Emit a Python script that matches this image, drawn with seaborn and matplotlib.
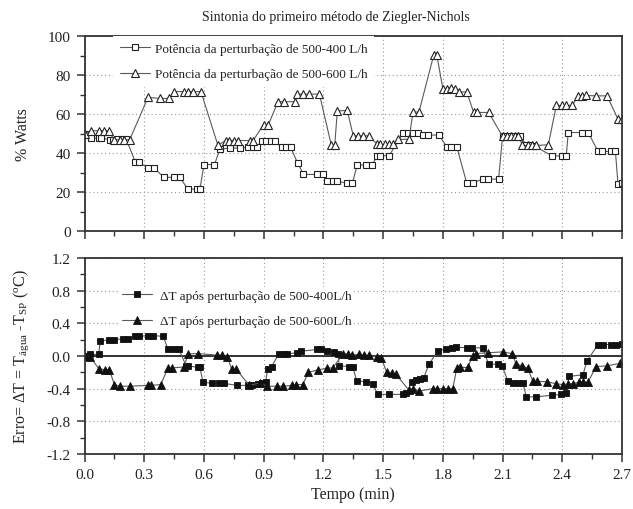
import numpy as np
import pandas as pd
import matplotlib
matplotlib.use("Agg")
import matplotlib.pyplot as plt
import seaborn as sns
from matplotlib.ticker import FixedLocator

# ---------------- data ----------------
t400 = [0.0, 0.031, 0.071, 0.084, 0.13, 0.143, 0.165, 0.19, 0.21, 0.255, 0.272, 0.32, 0.35, 0.40, 0.45,
        0.478, 0.52, 0.565, 0.58, 0.60, 0.653, 0.68, 0.73, 0.78, 0.82, 0.845, 0.865, 0.89, 0.91, 0.935,
        0.955, 0.99, 1.01, 1.035, 1.07, 1.10, 1.17, 1.20, 1.22, 1.25, 1.27, 1.32, 1.345, 1.37, 1.415,
        1.445, 1.47, 1.486, 1.53, 1.60, 1.625, 1.65, 1.675, 1.70, 1.725, 1.78, 1.82, 1.843, 1.87, 1.92,
        1.95, 2.0, 2.026, 2.08, 2.10, 2.13, 2.16, 2.19, 2.22, 2.24, 2.26, 2.35, 2.40, 2.42, 2.43, 2.50,
        2.53, 2.58, 2.60, 2.645, 2.667, 2.68, 2.70]
p400 = [50, 47.6, 47.6, 47.6, 46.8, 46.8, 47, 47, 47, 35.5, 35.5, 32.1, 32.1, 27.5, 27.5,
        27.5, 21.5, 21.5, 21.5, 34.1, 34.1, 42, 42.5, 42.5, 43, 43, 43, 46, 46, 46,
        46, 43, 43, 43, 35, 29, 29, 29, 25.6, 25.6, 25.6, 24.4, 24.4, 33.8, 33.8,
        33.8, 38.6, 38.6, 38.6, 50.2, 50.2, 50.2, 50.2, 49.2, 49.2, 49.2, 43.2, 43.2, 43.2, 24.6,
        24.6, 26.6, 26.6, 26.6, 48.5, 48.5, 48.5, 48.5, 44, 44, 43.5, 38.5, 38.5, 38.5, 50.5, 50.5,
        50.5, 40.8, 40.8, 40.8, 40.8, 23.9, 24.6]

t600 = [0.0, 0.031, 0.073, 0.098, 0.123, 0.148, 0.177, 0.20, 0.227, 0.319, 0.38, 0.425, 0.45, 0.50,
        0.52, 0.545, 0.585, 0.67, 0.71, 0.727, 0.75, 0.772, 0.83, 0.847, 0.90, 0.924, 0.972, 1.0,
        1.056, 1.068, 1.098, 1.126, 1.18, 1.24, 1.257, 1.27, 1.32, 1.35, 1.374, 1.40, 1.43, 1.47,
        1.486, 1.51, 1.53, 1.55, 1.575, 1.63, 1.65, 1.68, 1.754, 1.77, 1.80, 1.82, 1.843, 1.86, 1.88,
        1.92, 1.955, 1.97, 2.03, 2.10, 2.12, 2.14, 2.16, 2.18, 2.20, 2.226, 2.25, 2.27, 2.33, 2.37,
        2.40, 2.42, 2.45, 2.48, 2.50, 2.52, 2.57, 2.625, 2.68, 2.70]
p600 = [50, 51.4, 51.4, 51.4, 51.4, 46.8, 46.8, 46.8, 46.8, 68.5, 68, 68, 71.5, 71.5,
        71.5, 71.5, 71.5, 44, 46.4, 46.4, 46.4, 46.4, 46.4, 46.4, 54.6, 54.6, 66.3, 66.3,
        66.3, 70.2, 70.2, 70.2, 70.2, 44, 44, 61.6, 61.8, 48.8, 48.8, 48.8, 48.8, 44.4,
        44.4, 44.4, 44.4, 44.4, 47, 47, 61, 61, 90.1, 90.1, 73, 73, 73.5, 73, 71.3,
        71.3, 60.8, 60.8, 60.8, 48.5, 48.5, 48.8, 48.8, 48.8, 43.9, 43.9, 43.9, 43.9, 44.2, 64.4,
        64.4, 64.4, 64.4, 69.3, 69.3, 69.5, 69.3, 69.3, 57.3, 57.3]

te400 = [0.0, 0.028, 0.072, 0.078, 0.125, 0.15, 0.195, 0.217, 0.255, 0.272, 0.317, 0.345, 0.395, 0.42,
         0.45, 0.475, 0.51, 0.52, 0.57, 0.58, 0.595, 0.64, 0.675, 0.70, 0.767, 0.82, 0.84, 0.87, 0.89,
         0.91, 0.92, 0.94, 0.975, 1.0, 1.017, 1.067, 1.09, 1.17, 1.19, 1.217, 1.255, 1.272, 1.28, 1.33,
         1.347, 1.367, 1.415, 1.448, 1.473, 1.528, 1.6, 1.616, 1.646, 1.666, 1.683, 1.703, 1.73, 1.775,
         1.817, 1.847, 1.867, 1.92, 1.947, 2.0, 2.03, 2.077, 2.098, 2.127, 2.152, 2.177, 2.202, 2.219,
         2.27, 2.35, 2.395, 2.42, 2.433, 2.504, 2.524, 2.58, 2.604, 2.646, 2.671, 2.70]
e400 = [0.0, 0.02, 0.02, 0.18, 0.2, 0.2, 0.21, 0.21, 0.24, 0.24, 0.25, 0.25, 0.24, 0.08,
        0.08, 0.08, -0.12, -0.12, -0.14, -0.14, -0.32, -0.335, -0.335, -0.335, -0.36, -0.36, -0.36, -0.34, -0.33,
        -0.32, -0.155, -0.13, 0.025, 0.025, 0.025, 0.04, 0.06, 0.08, 0.08, 0.06, 0.045, 0.03, -0.12, -0.13,
        -0.13, -0.3, -0.32, -0.34, -0.47, -0.47, -0.47, -0.45, -0.32, -0.295, -0.28, -0.275, -0.1, 0.06,
        0.086, 0.094, 0.11, 0.1, 0.1, 0.1, -0.1, -0.1, -0.12, -0.31, -0.33, -0.33, -0.33, -0.5,
        -0.5, -0.48, -0.47, -0.45, -0.25, -0.23, -0.06, 0.14, 0.14, 0.14, 0.14, 0.15]

te600 = [0.0, 0.028, 0.072, 0.105, 0.125, 0.15, 0.178, 0.228, 0.317, 0.333, 0.383, 0.42, 0.44, 0.50,
         0.52, 0.57, 0.667, 0.69, 0.717, 0.74, 0.763, 0.828, 0.883, 0.917, 0.967, 0.995, 1.042, 1.063,
         1.097, 1.125, 1.172, 1.217, 1.247, 1.30, 1.322, 1.342, 1.378, 1.406, 1.43, 1.468, 1.49, 1.518,
         1.545, 1.565, 1.63, 1.65, 1.68, 1.75, 1.77, 1.8, 1.825, 1.85, 1.87, 1.888, 1.925, 1.95, 1.966,
         2.026, 2.1, 2.148, 2.168, 2.2, 2.227, 2.252, 2.272, 2.323, 2.37, 2.403, 2.428, 2.453, 2.484,
         2.504, 2.529, 2.57, 2.625, 2.69]
e600 = [0.0, -0.01, -0.155, -0.17, -0.17, -0.35, -0.37, -0.37, -0.36, -0.36, -0.35, -0.145, -0.145, -0.135,
        0.025, 0.03, 0.01, 0.01, -0.01, -0.165, -0.165, -0.36, -0.33, -0.37, -0.37, -0.37, -0.36, -0.35,
        -0.35, -0.2, -0.17, -0.15, -0.145, 0.03, 0.02, 0.01, 0.02, 0.01, 0.01, -0.01, -0.02, -0.2,
        -0.21, -0.225, -0.42, -0.4, -0.43, -0.4, -0.4, -0.4, -0.4, -0.4, -0.15, -0.14, -0.14, 0.0, 0.03,
        0.04, 0.05, 0.03, -0.1, -0.12, -0.15, -0.31, -0.31, -0.315, -0.34, -0.35, -0.34, -0.34, -0.32,
        -0.32, -0.32, -0.13, -0.12, -0.09]

xticks = [0.0, 0.3, 0.6, 0.9, 1.2, 1.5, 1.8, 2.1, 2.4, 2.7]
yticks_top = [0, 20, 40, 60, 80, 100]
yticks_bot = [-1.2, -0.8, -0.4, 0.0, 0.4, 0.8, 1.2]

title = "Sintonia do primeiro método de Ziegler-Nichols"
lab400 = "Potência da perturbação de 500-400 L/h"
lab600 = "Potência da perturbação de 500-600 L/h"
labE400 = "ΔT após perturbação de 500-400L/h"
labE600 = "ΔT após perturbação de 500-600L/h"

# ---------------- style ----------------
sns.set_theme(style="ticks")
plt.rcParams["font.family"] = ["Liberation Serif", "DejaVu Serif"]
plt.rcParams["mathtext.fontset"] = "custom"
plt.rcParams["mathtext.rm"] = "Liberation Serif"
plt.rcParams["mathtext.it"] = "Liberation Serif:italic"

W, H = 633, 510
fig = plt.figure(figsize=(W / 100, H / 100), dpi=100)
x0, x1 = 84.5, 622
ax1 = fig.add_axes([x0 / W, 1 - 232 / H, (x1 - x0) / W, (232 - 37) / H])
ax2 = fig.add_axes([x0 / W, 1 - 455 / H, (x1 - x0) / W, (455 - 259) / H])

line_c = "#5a5a5a"
edge_c = "#222222"

df400 = pd.DataFrame({"t": t400, "v": p400})
df600 = pd.DataFrame({"t": t600, "v": p600})
dfe400 = pd.DataFrame({"t": te400, "v": e400})
dfe600 = pd.DataFrame({"t": te600, "v": e600})

sns.lineplot(data=df400, x="t", y="v", ax=ax1, estimator=None, sort=False, color=line_c, lw=0.8,
             marker="s", markersize=4.8, markerfacecolor="white", markeredgecolor=edge_c,
             markeredgewidth=0.8, label=lab400)
sns.lineplot(data=df600, x="t", y="v", ax=ax1, estimator=None, sort=False, color=line_c, lw=0.8,
             marker="^", markersize=5.6, markerfacecolor="white", markeredgecolor=edge_c,
             markeredgewidth=0.8, label=lab600)
sns.lineplot(data=dfe400, x="t", y="v", ax=ax2, estimator=None, sort=False, color=line_c, lw=0.8,
             marker="s", markersize=4.6, markerfacecolor="#111111", markeredgecolor="#111111",
             markeredgewidth=0.6, label=labE400)
sns.lineplot(data=dfe600, x="t", y="v", ax=ax2, estimator=None, sort=False, color=line_c, lw=0.8,
             marker="^", markersize=5.6, markerfacecolor="#111111", markeredgecolor="#111111",
             markeredgewidth=0.6, label=labE600)

ax2.axhline(0, color="#333333", lw=1.4, zorder=1.5)

for ax, yt, ylim, ystep in [(ax1, yticks_top, (0, 100), 10), (ax2, yticks_bot, (-1.2, 1.2), 0.2)]:
    ax.set_xlim(0, 2.7)
    ax.set_ylim(*ylim)
    ax.set_xticks(xticks)
    ax.set_xticklabels([f"{v:.1f}" for v in xticks])
    ax.xaxis.set_minor_locator(FixedLocator([v + 0.15 for v in xticks[:-1]]))
    ax.set_yticks(yt)
    if ax is ax1:
        ax.set_yticklabels([f"{v:d}" for v in yt])
    else:
        ax.set_yticklabels([f"{v:.1f}" for v in yt])
    ax.yaxis.set_minor_locator(FixedLocator([v + ystep for v in yt[:-1]]))
    ax.grid(True, which="major", ls=(0, (1, 2.5)), color="#9a9a9a", lw=0.8)
    ax.set_axisbelow(True)
    ax.tick_params(which="major", direction="out", length=6, width=1.1, labelsize=11,
                   color="#333333", labelcolor="#222222", pad=4)
    ax.tick_params(which="minor", direction="out", length=3.5, width=1.0, color="#333333")
    for s in ax.spines.values():
        s.set_linewidth(1.3)
        s.set_color("#333333")
    ax.set_xlabel("")
    ax.set_ylabel("")

ax1.tick_params(labelbottom=False)

ax1.set_ylabel("% Watts", fontsize=11.5, color="#222222")
ax2.set_ylabel("Erro= ΔT = T$_{\\rm água}$ -T$_{\\rm SP}$ ($^{\\rm o}$C)", fontsize=11.5, color="#222222")
ax1.yaxis.set_label_coords(-0.1, 0.5)
ax2.yaxis.set_label_coords(-0.1, 0.5)
ax2.set_xlabel("Tempo (min)", fontsize=11.5, color="#222222", labelpad=4)

leg_kw = dict(loc="upper left", borderaxespad=0, fontsize=9.5, handlelength=2.3,
              labelspacing=1.0, frameon=True, facecolor="white", edgecolor="none", framealpha=1,
              fancybox=False, labelcolor="#222222")
l1 = ax1.legend(bbox_to_anchor=(0.053, 1.0), handletextpad=0.4, borderpad=0.5, **leg_kw)
l2 = ax2.legend(bbox_to_anchor=(0.064, 0.852), handletextpad=0.6, borderpad=0.2, **leg_kw)

fig.text(336 / W, 1 - 17 / H, title, ha="center", va="center", fontsize=10, color="#222222")

fig.savefig("out.png", dpi=100)
